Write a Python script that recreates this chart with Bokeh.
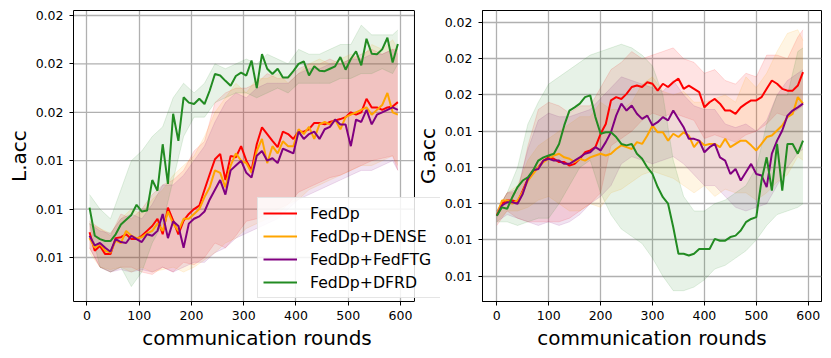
from bokeh.plotting import figure
from bokeh.layouts import row
from bokeh.models import Range1d, FixedTicker, Legend, LegendItem, LinearAxis, Span
from bokeh.embed import file_html
from bokeh.resources import INLINE

SERIES = ["FedDp", "FedDp+DENSE", "FedDp+FedFTG", "FedDp+DFRD"]
COLORS = ["red", "orange", "purple", "forestgreen"]

X_TICKS = [0, 100, 200, 300, 400, 500, 600]
L_Y_TICKS = [0.012, 0.013, 0.014, 0.015, 0.016, 0.017]
L_Y_LABELS = ["0.01", "0.01", "0.01", "0.02", "0.02", "0.02"]
G_Y_TICKS = [0.010, 0.011, 0.012, 0.013, 0.014, 0.015, 0.016, 0.017]
G_Y_LABELS = ["0.01", "0.01", "0.01", "0.01", "0.01", "0.02", "0.02", "0.02"]

# ---------------- Local accuracy (left) ----------------
ROUNDS_L = list(range(5, 600, 10))
RED_L = [0.01252, 0.01214, 0.01224, 0.01207, 0.01207, 0.0124, 0.01242, 0.01248, 0.01238, 0.01238,
         0.01245, 0.01255, 0.01265, 0.0128, 0.01248, 0.01303, 0.01276, 0.01248, 0.01276, 0.0129,
         0.013, 0.01307, 0.0134, 0.01372, 0.01403, 0.01414, 0.0136, 0.0141, 0.01407, 0.0143,
         0.014, 0.0138, 0.01434, 0.01469, 0.01455, 0.01441, 0.01428, 0.0146, 0.01455, 0.01445,
         0.0146, 0.0146, 0.01465, 0.01478, 0.01478, 0.01475, 0.0148, 0.01483, 0.01486, 0.0149,
         0.015, 0.01495, 0.015, 0.01528, 0.0151, 0.0151, 0.01505, 0.0151, 0.01512, 0.01521]
ORANGE_L = [0.0124, 0.0122, 0.01228, 0.01214, 0.0121, 0.01235, 0.0123, 0.01255, 0.01245, 0.0124,
            0.01242, 0.0125, 0.01255, 0.0127, 0.01255, 0.01295, 0.0127, 0.01255, 0.0128, 0.0128,
            0.0129, 0.013, 0.01325, 0.01345, 0.0138, 0.01375, 0.01345, 0.0139, 0.01415, 0.014,
            0.01395, 0.01375, 0.0142, 0.01445, 0.01395, 0.0143, 0.01415, 0.0144, 0.0143, 0.0143,
            0.01465, 0.01455, 0.0147, 0.01445, 0.01475, 0.0148, 0.01475, 0.01485, 0.01465, 0.0149,
            0.01495, 0.015, 0.01505, 0.0151, 0.01495, 0.01505, 0.01515, 0.0154, 0.015, 0.01495]
PURPLE_L = [0.01245, 0.01225, 0.0123, 0.0122, 0.01212, 0.01238, 0.01232, 0.0123, 0.01245, 0.01238,
            0.01232, 0.01248, 0.01245, 0.01255, 0.0129, 0.0124, 0.01275, 0.01265, 0.0122, 0.0127,
            0.0128, 0.01285, 0.01295, 0.0132, 0.0134, 0.0136, 0.0133, 0.0138, 0.0139, 0.014,
            0.01375, 0.01365, 0.0141, 0.0142, 0.014, 0.01405, 0.01395, 0.01425, 0.0142, 0.01415,
            0.0146, 0.01445, 0.01455, 0.0146, 0.01445, 0.01465, 0.0147, 0.01485, 0.01475, 0.01475,
            0.0143, 0.01485, 0.0148, 0.01505, 0.01475, 0.01495, 0.015, 0.01505, 0.0151, 0.01505]
GREEN_L = [0.01303, 0.01245, 0.01238, 0.01234, 0.01234, 0.01248, 0.01268, 0.01278, 0.01288, 0.01309,
           0.01295, 0.01297, 0.0136, 0.01338, 0.01434, 0.01352, 0.01497, 0.01441, 0.01531, 0.0152,
           0.01517, 0.01528, 0.01517, 0.01545, 0.01579, 0.01576, 0.01565, 0.01555, 0.01575, 0.01582,
           0.01576, 0.01607, 0.0155, 0.0162, 0.0159, 0.01579, 0.0159, 0.01572, 0.01572, 0.01585,
           0.016, 0.01605, 0.01576, 0.01595, 0.01586, 0.01585, 0.0159, 0.01595, 0.01614, 0.01588,
           0.0161, 0.01626, 0.01597, 0.01652, 0.01621, 0.0162, 0.0163, 0.01654, 0.01603, 0.01641]

BAND_ROUNDS_L = list(range(5, 600, 20)) + [595]
RED_L_HI = [0.01275, 0.0126, 0.01245, 0.0129, 0.0128, 0.013, 0.0133, 0.0135, 0.0136, 0.0138,
            0.0142, 0.0144, 0.0152, 0.0154, 0.0155, 0.0155, 0.0156, 0.0158, 0.0157, 0.0157,
            0.0159, 0.016, 0.016, 0.0161, 0.016, 0.0161, 0.0162, 0.0163, 0.0162, 0.0163, 0.0163]
RED_L_LO = [0.0122, 0.0118, 0.0117, 0.0118, 0.0118, 0.0117, 0.01165, 0.0118, 0.0117, 0.0119,
            0.01185, 0.012, 0.0123, 0.0122, 0.01245, 0.01275, 0.0128, 0.0129, 0.013, 0.0131,
            0.01335, 0.01345, 0.01355, 0.01365, 0.0137, 0.0138, 0.0139, 0.014, 0.01405, 0.0141, 0.0138]
ORANGE_L_HI = [0.0127, 0.0126, 0.0125, 0.0128, 0.013, 0.0129, 0.0132, 0.0134, 0.0137, 0.0139,
               0.0141, 0.0145, 0.015, 0.0153, 0.0156, 0.0154, 0.0157, 0.0157, 0.0158, 0.0156,
               0.0158, 0.016, 0.0161, 0.016, 0.0161, 0.0162, 0.0161, 0.0164, 0.0163, 0.0165, 0.0163]
ORANGE_L_LO = [0.0121, 0.0118, 0.01175, 0.0118, 0.0117, 0.0118, 0.0117, 0.01175, 0.0118, 0.0117,
               0.0118, 0.01195, 0.0121, 0.0123, 0.0124, 0.0126, 0.0127, 0.0128, 0.0129, 0.0131,
               0.0132, 0.0134, 0.0135, 0.0136, 0.0137, 0.0138, 0.0139, 0.0139, 0.014, 0.0141, 0.0139]
PURPLE_L_HI = [0.0127, 0.01255, 0.0125, 0.0128, 0.0129, 0.0128, 0.0131, 0.0135, 0.0135, 0.0137,
               0.014, 0.0143, 0.0148, 0.0152, 0.0154, 0.0153, 0.0155, 0.0156, 0.0156, 0.0156,
               0.0158, 0.0159, 0.0159, 0.016, 0.016, 0.0161, 0.0161, 0.0162, 0.0162, 0.0163, 0.0162]
PURPLE_L_LO = [0.0122, 0.0118, 0.0117, 0.01175, 0.0117, 0.01175, 0.0117, 0.0118, 0.0117, 0.0118,
               0.0119, 0.0119, 0.0121, 0.0122, 0.0124, 0.0125, 0.0126, 0.0127, 0.0128, 0.013,
               0.0132, 0.0133, 0.0134, 0.0135, 0.0136, 0.0137, 0.0138, 0.0138, 0.0139, 0.014, 0.0138]
GREEN_L_HI = [0.0133, 0.013, 0.0128, 0.0134, 0.014, 0.0142, 0.0145, 0.0147, 0.0153, 0.0156,
              0.0154, 0.0156, 0.016, 0.0159, 0.016, 0.0161, 0.016, 0.0162, 0.0161, 0.016,
              0.0163, 0.0162, 0.0162, 0.0163, 0.0164, 0.0164, 0.0168, 0.0166, 0.0166, 0.0166, 0.0167]
GREEN_L_LO = [0.0127, 0.0118, 0.0117, 0.0118, 0.0114, 0.0117, 0.0123, 0.0127, 0.0136, 0.0145,
              0.0149, 0.0149, 0.0152, 0.0153, 0.0154, 0.0154, 0.0153, 0.0154, 0.0155, 0.0154,
              0.0156, 0.0156, 0.0156, 0.0156, 0.0157, 0.0157, 0.0158, 0.0158, 0.0159, 0.0158, 0.016]

# ---------------- Global accuracy (right) ----------------
ROUNDS_G = list(range(0, 600, 10))
RED_G = [0.01167, 0.012, 0.01209, 0.01209, 0.01204, 0.01236, 0.01269, 0.01287, 0.013, 0.01319,
         0.01328, 0.01324, 0.01315, 0.01315, 0.01305, 0.0131, 0.01324, 0.01342, 0.01347, 0.01356,
         0.01393, 0.0142, 0.01485, 0.01494, 0.01489, 0.01503, 0.01522, 0.01526, 0.01522, 0.01535,
         0.01531, 0.01512, 0.01531, 0.01522, 0.01535, 0.01545, 0.01517, 0.01526, 0.01517, 0.01508,
         0.01466, 0.0148, 0.01489, 0.01476, 0.01457, 0.01457, 0.01448, 0.01466, 0.01476, 0.01485,
         0.01485, 0.01494, 0.01517, 0.0154, 0.01531, 0.01517, 0.01512, 0.01512, 0.01526, 0.01563]
ORANGE_G = [0.01167, 0.01209, 0.01209, 0.012, 0.01209, 0.01232, 0.01264, 0.01282, 0.013, 0.01315,
            0.01324, 0.01333, 0.01338, 0.01328, 0.01324, 0.01315, 0.01324, 0.01319, 0.01328, 0.01333,
            0.01338, 0.01333, 0.01338, 0.01351, 0.01361, 0.01356, 0.01351, 0.0137, 0.01365, 0.01388,
            0.01416, 0.01397, 0.01397, 0.01374, 0.01393, 0.01384, 0.01397, 0.01388, 0.01356, 0.01374,
            0.01361, 0.01365, 0.01365, 0.01356, 0.01379, 0.01356, 0.01365, 0.01374, 0.01374, 0.01361,
            0.01347, 0.01365, 0.01384, 0.01388, 0.01402, 0.01416, 0.01439, 0.01448, 0.01494, 0.01476]
PURPLE_G = [0.01167, 0.01195, 0.01204, 0.01204, 0.012, 0.01227, 0.01269, 0.01292, 0.01296, 0.01319,
            0.01324, 0.01319, 0.01319, 0.0131, 0.0131, 0.01319, 0.01328, 0.01338, 0.01342, 0.01356,
            0.01347, 0.0137, 0.01397, 0.01443, 0.01476, 0.01457, 0.01471, 0.01448, 0.01434, 0.01443,
            0.01416, 0.01425, 0.01439, 0.0143, 0.01457, 0.01434, 0.01411, 0.01379, 0.01379, 0.01374,
            0.01342, 0.01356, 0.01365, 0.01328, 0.01319, 0.01282, 0.01296, 0.01264, 0.01287, 0.0131,
            0.01282, 0.01278, 0.01246, 0.01338, 0.01374, 0.01402, 0.01443, 0.01457, 0.01466, 0.01476]
GREEN_G = [0.01167, 0.0119, 0.01186, 0.01218, 0.01246, 0.01264, 0.01273, 0.01292, 0.01319, 0.01328,
           0.01333, 0.01338, 0.01365, 0.01416, 0.01457, 0.01466, 0.01476, 0.01494, 0.01499, 0.01439,
           0.01393, 0.01397, 0.01397, 0.01384, 0.01365, 0.01361, 0.01365, 0.01338, 0.01324, 0.013,
           0.01282, 0.01246, 0.01218, 0.012, 0.01135, 0.01062, 0.01062, 0.01057, 0.01062, 0.01075,
           0.01075, 0.01075, 0.01103, 0.01098, 0.01098, 0.01108, 0.01112, 0.01126, 0.01149, 0.01158,
           0.01163, 0.01264, 0.01328, 0.01236, 0.01365, 0.01236, 0.01365, 0.01365, 0.01338, 0.01374]

BAND_ROUNDS_G = list(range(0, 600, 20)) + [590]
RED_G_HI = [0.0118, 0.0123, 0.0123, 0.0136, 0.0146, 0.0148, 0.0147, 0.0145, 0.0147, 0.0147,
            0.0152, 0.0157, 0.0159, 0.0162, 0.016, 0.0161, 0.0162, 0.0163, 0.016, 0.0159,
            0.0156, 0.0157, 0.0154, 0.0153, 0.0156, 0.0155, 0.0161, 0.0161, 0.016, 0.0166, 0.0168]
RED_G_LO = [0.0114, 0.0118, 0.0116, 0.0115, 0.0115, 0.0115, 0.0115, 0.0116, 0.0118, 0.012,
            0.0123, 0.0136, 0.0138, 0.014, 0.0143, 0.0145, 0.0144, 0.0145, 0.0144, 0.0143,
            0.0138, 0.0139, 0.0138, 0.0137, 0.0139, 0.014, 0.0142, 0.0145, 0.0144, 0.0146, 0.0147]
ORANGE_G_HI = [0.0118, 0.0123, 0.0125, 0.0132, 0.0136, 0.0138, 0.014, 0.0142, 0.0144, 0.0144,
               0.0148, 0.0146, 0.0146, 0.0148, 0.0153, 0.0155, 0.0151, 0.015, 0.0151, 0.0148,
               0.0148, 0.0149, 0.015, 0.0148, 0.0155, 0.0152, 0.0156, 0.0162, 0.0167, 0.0168, 0.0165]
ORANGE_G_LO = [0.0115, 0.0118, 0.0118, 0.0119, 0.0121, 0.0122, 0.012, 0.0118, 0.0118, 0.012,
               0.0119, 0.0123, 0.0124, 0.0126, 0.0128, 0.0129, 0.0128, 0.0127, 0.0125, 0.0123,
               0.0125, 0.0122, 0.0124, 0.0123, 0.0123, 0.0121, 0.0123, 0.0126, 0.0128, 0.0133, 0.0132]
PURPLE_G_HI = [0.0118, 0.0123, 0.0124, 0.0135, 0.0143, 0.0145, 0.0144, 0.0144, 0.0145, 0.0146,
               0.0149, 0.0152, 0.0155, 0.0154, 0.0153, 0.0152, 0.0151, 0.0154, 0.015, 0.0147,
               0.0146, 0.0146, 0.0142, 0.0141, 0.0142, 0.014, 0.0143, 0.015, 0.0154, 0.0156, 0.0157]
PURPLE_G_LO = [0.0115, 0.0117, 0.0116, 0.0115, 0.0114, 0.0115, 0.0114, 0.0115, 0.0117, 0.012,
               0.0122, 0.0125, 0.0131, 0.0133, 0.0132, 0.0131, 0.0132, 0.0133, 0.0131, 0.0128,
               0.0125, 0.0125, 0.0122, 0.0119, 0.0118, 0.0119, 0.012, 0.0125, 0.013, 0.0134, 0.0135]
GREEN_G_HI = [0.0118, 0.0123, 0.013, 0.0142, 0.0148, 0.0153, 0.0155, 0.0157, 0.0159, 0.0161,
              0.0162, 0.0163, 0.0164, 0.0163, 0.0161, 0.0158, 0.015, 0.0132, 0.0122, 0.0118,
              0.0118, 0.012, 0.0121, 0.0123, 0.0125, 0.013, 0.0142, 0.015, 0.015, 0.0162, 0.0163]
GREEN_G_LO = [0.0115, 0.0115, 0.0114, 0.0115, 0.0116, 0.0116, 0.012, 0.0125, 0.013, 0.0132,
              0.0123, 0.0117, 0.0113, 0.0111, 0.0109, 0.0105, 0.01, 0.0096, 0.0096, 0.0097,
              0.0099, 0.0102, 0.0103, 0.0105, 0.0107, 0.011, 0.0114, 0.0117, 0.0118, 0.0119, 0.012]

FONT = "DejaVu Sans"
BAND_ALPHA = 0.11


def style_axis(ax):
    ax.axis_line_color = "black"
    ax.major_tick_line_color = "black"
    ax.major_tick_out = 4
    ax.major_tick_in = 0
    ax.minor_tick_line_color = None
    ax.major_label_text_font = FONT
    ax.major_label_text_font_size = "12.5px"
    ax.major_label_text_color = "black"
    ax.axis_label_text_font = FONT
    ax.axis_label_text_font_size = "20px"
    ax.axis_label_text_font_style = "normal"
    ax.axis_label_text_color = "black"


def make_fig(width, border_left, border_right, xr, yr, yticks, ylabels, ylabel):
    p = figure(width=width, height=356, output_backend="svg", toolbar_location=None,
               x_range=Range1d(*xr), y_range=Range1d(*yr),
               min_border_left=border_left, min_border_right=border_right,
               min_border_top=10, min_border_bottom=55)
    p.background_fill_color = "white"
    p.border_fill_color = None
    p.outline_line_color = "black"
    p.outline_line_width = 1
    p.xaxis.ticker = FixedTicker(ticks=X_TICKS)
    p.yaxis.ticker = FixedTicker(ticks=yticks)
    p.yaxis.major_label_overrides = {t: l for t, l in zip(yticks, ylabels)}
    p.xaxis.axis_label = "communication rounds"
    p.yaxis.axis_label = ylabel
    style_axis(p.xaxis[0])
    style_axis(p.yaxis[0])
    p.xaxis.major_label_standoff = 5
    p.yaxis.major_label_standoff = 6
    p.xaxis.axis_label_standoff = 3
    p.yaxis.axis_label_standoff = 2
    for g in (p.xgrid[0], p.ygrid[0]):
        g.grid_line_color = "#b0b0b0"
        g.grid_line_width = 1.3
    p.xgrid.ticker = FixedTicker(ticks=X_TICKS)
    p.ygrid.ticker = FixedTicker(ticks=yticks)
    return p


# ---- Left figure: canvas x 0..440; the visible axes box is 73..414, the frame
# itself extends to 440 so that the legend may overhang the right spine.
L_XLIM = (-25.7, 626.8)
L_YLIM = (0.011091, 0.017103)
p1 = make_fig(440, 73, 0, (L_XLIM[0], 676.6), L_YLIM, L_Y_TICKS, L_Y_LABELS, "L.acc")
p1.background_fill_color = None
p1.outline_line_color = None
p1.xaxis.bounds = L_XLIM
p1.ygrid.visible = False
p1.segment(x0=[L_XLIM[0]] * len(L_Y_TICKS), y0=L_Y_TICKS, x1=[L_XLIM[1]] * len(L_Y_TICKS), y1=L_Y_TICKS,
           line_color="#b0b0b0", line_width=1.3)
top_axis = LinearAxis(ticker=FixedTicker(ticks=[]), bounds=L_XLIM, axis_line_color="black",
                      major_tick_out=0, major_tick_in=0, minor_tick_out=0, minor_tick_in=0,
                      major_label_standoff=0)
p1.add_layout(top_axis, "above")

bands_l = [(RED_L_LO, RED_L_HI), (ORANGE_L_LO, ORANGE_L_HI), (PURPLE_L_LO, PURPLE_L_HI), (GREEN_L_LO, GREEN_L_HI)]
for (lo, hi), c in zip(bands_l, COLORS):
    p1.varea(x=BAND_ROUNDS_L, y1=lo, y2=hi, fill_color=c, fill_alpha=BAND_ALPHA)
    p1.line(BAND_ROUNDS_L, lo, line_color=c, line_alpha=0.12, line_width=1)
    p1.line(BAND_ROUNDS_L, hi, line_color=c, line_alpha=0.12, line_width=1)
renderers = []
for ys, c in zip([RED_L, ORANGE_L, PURPLE_L, GREEN_L], COLORS):
    renderers.append(p1.line(ROUNDS_L, ys, line_color=c, line_width=2))

p1.add_layout(Span(location=L_XLIM[1], dimension="height", line_color="black", line_width=1))

legend = Legend(items=[LegendItem(label=s, renderers=[r]) for s, r in zip(SERIES, renderers)],
                location=(184, 3))
legend.label_text_font = FONT
legend.label_text_font_size = "15.7px"
legend.label_text_color = "black"
legend.glyph_width = 34
legend.glyph_height = 20
legend.label_height = 20
legend.label_width = 125
legend.label_standoff = 13
legend.spacing = 3
legend.padding = 5
legend.margin = 0
legend.border_line_color = "#cccccc"
legend.border_line_width = 1
legend.background_fill_color = "white"
legend.background_fill_alpha = 0.85
p1.add_layout(legend, "center")
p1.styles = {"position": "relative", "z-index": "5"}

# ---- Right figure: canvas x 408..831, frame 482..821
p2 = make_fig(423, 74, 10, (-27.5, 625.6), (0.009302, 0.017331), G_Y_TICKS, G_Y_LABELS, "G.acc")
bands_g = [(RED_G_LO, RED_G_HI), (ORANGE_G_LO, ORANGE_G_HI), (PURPLE_G_LO, PURPLE_G_HI), (GREEN_G_LO, GREEN_G_HI)]
for (lo, hi), c in zip(bands_g, COLORS):
    p2.varea(x=BAND_ROUNDS_G, y1=lo, y2=hi, fill_color=c, fill_alpha=BAND_ALPHA)
    p2.line(BAND_ROUNDS_G, lo, line_color=c, line_alpha=0.12, line_width=1)
    p2.line(BAND_ROUNDS_G, hi, line_color=c, line_alpha=0.12, line_width=1)
for ys, c in zip([RED_G, ORANGE_G, PURPLE_G, GREEN_G], COLORS):
    p2.line(ROUNDS_G, ys, line_color=c, line_width=2)
p2.margin = (0, 0, 0, -32)

layout = row(p1, p2)
open("out.html", "w").write(file_html(layout, INLINE))
